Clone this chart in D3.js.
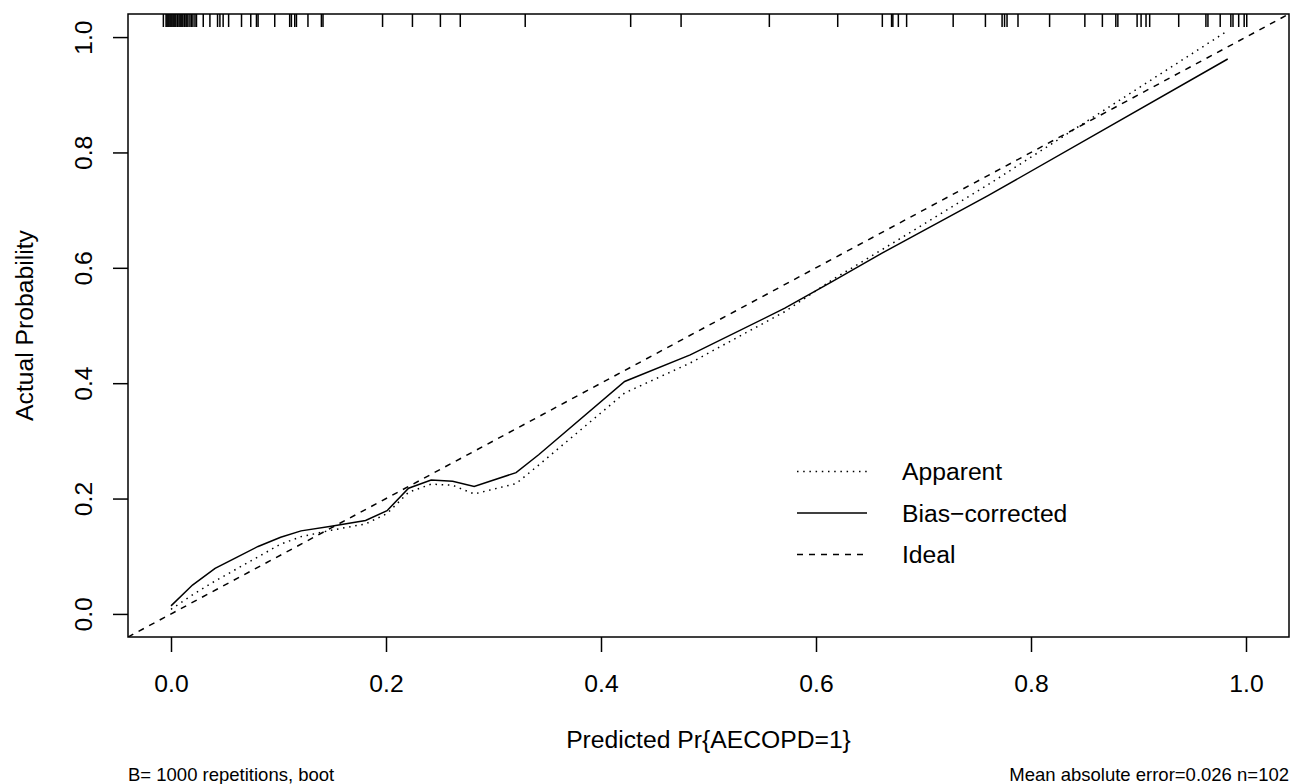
<!DOCTYPE html>
<html>
<head>
<meta charset="utf-8">
<script src="https://cdn.jsdelivr.net/npm/d3@7"></script>
<style>
  body { margin: 0; background: #fff; }
  svg { display: block; font-family: "Liberation Sans", Arial, Helvetica, sans-serif; }
</style>
</head>
<body>
<div id="chart"></div>
<script>
// calibration curve data
var predGrid = [0.000, 0.020, 0.041, 0.062, 0.081, 0.102, 0.121, 0.149, 0.181, 0.201, 0.221, 0.242,
                0.262, 0.282, 0.321, 0.342, 0.422, 0.483, 0.571, 0.615, 0.661, 0.760, 0.983];
var apparent = [0.008, 0.033, 0.057, 0.079, 0.099, 0.121, 0.134, 0.145, 0.156, 0.174, 0.211, 0.225,
                0.223, 0.208, 0.226, 0.258, 0.383, 0.435, 0.524, 0.579, 0.631, 0.744, 1.011];
var biasCorrected = [0.014, 0.050, 0.079, 0.099, 0.117, 0.133, 0.144, 0.152, 0.162, 0.179, 0.218, 0.232,
                     0.230, 0.221, 0.245, 0.276, 0.403, 0.449, 0.530, 0.576, 0.625, 0.725, 0.962];

// predicted probabilities shown as rug along the top
var rugValues = [-0.0071, -0.0046, -0.0037, -0.0028, -0.0019, -0.0009, 0.0000, 0.0009, 0.0019, 0.0028,
                 0.0037, 0.0046, 0.0060, 0.0074, 0.0084, 0.0093, 0.0102, 0.0111, 0.0125, 0.0139,
                 0.0148, 0.0158, 0.0176, 0.0190, 0.0204, 0.0223, 0.0237, 0.0300, 0.0362, 0.0433,
                 0.0455, 0.0485, 0.0536, 0.0656, 0.0742, 0.0795, 0.0810, 0.0965, 0.1104, 0.1120,
                 0.1151, 0.1167, 0.1274, 0.1399, 0.1414, 0.1968, 0.2246, 0.2506, 0.2691, 0.3295,
                 0.4276, 0.4745, 0.5566, 0.6202, 0.6617, 0.6703, 0.6715, 0.6766, 0.6843, 0.7276,
                 0.7576, 0.7731, 0.7754, 0.7777, 0.7879, 0.8173, 0.8501, 0.8664, 0.8789, 0.8808,
                 0.8987, 0.9024, 0.9070, 0.9104, 0.9374, 0.9627, 0.9646, 0.9760, 0.9859, 0.9879,
                 0.9932, 0.9983, 1.0007];

var tickValues = [0, 0.2, 0.4, 0.6, 0.8, 1.0];
var legendLabels = ["Apparent", "Bias\u2212corrected", "Ideal"];
var xLabel = "Predicted Pr{AECOPD=1}";
var yLabel = "Actual Probability";
var noteLeft = "B= 1000 repetitions, boot";
var noteRight = "Mean absolute error=0.026 n=102";

//Create Containers
var svgWidth = 1296;
var svgHeight = 784;
var plot = { left: 128, right: 1289, top: 14, bottom: 637 };
var lwd = 1.5;
var fontBig = 24.7;
var fontSmall = 18.5;

var svg = d3.select("#chart")
    .append("svg")
    .attr("width", svgWidth)
    .attr("height", svgHeight);

svg.append("rect")
    .attr("width", svgWidth)
    .attr("height", svgHeight)
    .attr("fill", "#fff");

var xScale = d3.scaleLinear().domain([-0.04, 1.04]).range([plot.left, plot.right]);
var yScale = d3.scaleLinear().domain([-0.04, 1.04]).range([plot.bottom, plot.top]);

svg.append("clipPath")
    .attr("id", "clip")
    .append("rect")
    .attr("x", plot.left)
    .attr("y", plot.top)
    .attr("width", plot.right - plot.left)
    .attr("height", plot.bottom - plot.top);

//axes
var xAxis = d3.axisBottom(xScale)
    .tickValues(tickValues)
    .tickSize(15)
    .tickFormat(d3.format(".1f"));

var yAxis = d3.axisLeft(yScale)
    .tickValues(tickValues)
    .tickSize(15)
    .tickFormat(d3.format(".1f"));

var gx = svg.append("g")
    .attr("transform", `translate(0, ${plot.bottom})`)
    .call(xAxis);

var gy = svg.append("g")
    .attr("transform", `translate(${plot.left}, 0)`)
    .call(yAxis);

[gx, gy].forEach(function (g) {
    g.select(".domain").remove();
    g.selectAll(".tick line").attr("stroke", "#000").attr("stroke-width", lwd);
    g.selectAll(".tick text")
        .attr("fill", "#000")
        .attr("font-size", fontBig)
        .attr("font-family", null)
        .attr("text-anchor", "middle")
        .attr("dy", null);
});

gx.selectAll(".tick text").attr("y", 55);
gy.selectAll(".tick text")
    .attr("x", 0)
    .attr("y", 0)
    .attr("transform", "translate(-36, 0) rotate(-90)");

//box
svg.append("rect")
    .attr("x", plot.left)
    .attr("y", plot.top)
    .attr("width", plot.right - plot.left)
    .attr("height", plot.bottom - plot.top)
    .attr("fill", "none")
    .attr("stroke", "#000")
    .attr("stroke-width", lwd);

//rug along the top
svg.append("g")
    .selectAll("line")
    .data(rugValues)
    .enter()
    .append("line")
    .attr("x1", d => xScale(d))
    .attr("x2", d => xScale(d))
    .attr("y1", plot.top)
    .attr("y2", plot.top + 13)
    .attr("stroke", "#000")
    .attr("stroke-width", lwd);

//lines
var line = d3.line()
    .x(d => xScale(d[0]))
    .y(d => yScale(d[1]));

var chartGroup = svg.append("g").attr("clip-path", "url(#clip)");

// ideal diagonal
chartGroup.append("path")
    .datum([[-0.04, -0.04], [1.04, 1.04]])
    .attr("d", line)
    .attr("fill", "none")
    .attr("stroke", "#000")
    .attr("stroke-width", lwd)
    .attr("stroke-dasharray", "6,6");

chartGroup.append("path")
    .datum(predGrid.map((p, i) => [p, apparent[i]]))
    .attr("d", line)
    .attr("fill", "none")
    .attr("stroke", "#000")
    .attr("stroke-width", lwd)
    .attr("stroke-dasharray", "1.5,4.7");

chartGroup.append("path")
    .datum(predGrid.map((p, i) => [p, biasCorrected[i]]))
    .attr("d", line)
    .attr("fill", "none")
    .attr("stroke", "#000")
    .attr("stroke-width", lwd);

//legend
var dashes = ["1.5,4.7", null, "6,6"];
var legend = svg.append("g")
    .selectAll("g")
    .data(legendLabels)
    .enter()
    .append("g")
    .attr("transform", (d, i) => `translate(0, ${471.5 + i * 41.5})`);

legend.append("line")
    .attr("x1", 797)
    .attr("x2", 867)
    .attr("stroke", "#000")
    .attr("stroke-width", lwd)
    .attr("stroke-dasharray", (d, i) => dashes[i]);

legend.append("text")
    .attr("x", 902)
    .attr("dy", "0.35em")
    .attr("font-size", fontBig)
    .text(d => d);

//axis titles
svg.append("text")
    .attr("x", (plot.left + plot.right) / 2)
    .attr("y", 748)
    .attr("text-anchor", "middle")
    .attr("font-size", fontBig)
    .text(xLabel);

svg.append("text")
    .attr("transform", `translate(33, ${(plot.top + plot.bottom) / 2}) rotate(-90)`)
    .attr("text-anchor", "middle")
    .attr("font-size", fontBig)
    .text(yLabel);

//notes
svg.append("text")
    .attr("x", plot.left)
    .attr("y", 781)
    .attr("font-size", fontSmall)
    .text(noteLeft);

svg.append("text")
    .attr("x", plot.right)
    .attr("y", 781)
    .attr("text-anchor", "end")
    .attr("font-size", fontSmall)
    .text(noteRight);
</script>
</body>
</html>
